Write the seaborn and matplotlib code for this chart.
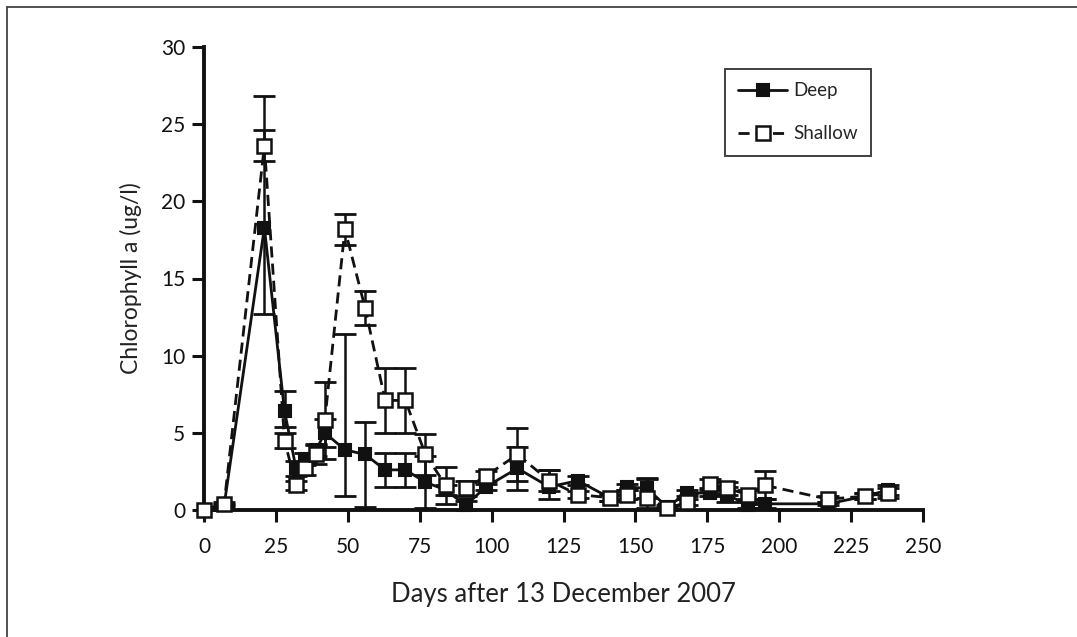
import matplotlib
matplotlib.use("Agg")
import matplotlib.pyplot as plt
from matplotlib import font_manager
from matplotlib.lines import Line2D
import seaborn as sns
import pandas as pd

# ---------------- data ----------------
days = [0, 7, 21, 28, 32, 35, 39, 42, 49, 56, 63, 70, 77, 84, 91, 98, 109,
        120, 130, 141, 147, 154, 161, 168, 176, 182, 189, 195, 217, 230, 238]

deep = [0.0, 0.3, 18.3, 6.4, 2.7, 3.3, 3.9, 5.0, 3.9, 3.6, 2.6, 2.6, 1.8, 1.3, 0.3, 1.5, 2.7,
        1.5, 1.9, 0.8, 1.5, 1.4, 0.2, 1.1, 1.1, 1.0, 0.3, 0.4, 0.4, 0.9, 1.3]
deep_err_lo = [0.0, 0.1, 5.6, 1.0, 0.5, 0.4, 0.4, 0.9, 3.0, 3.4, 1.1, 1.1, 1.7, 0.3, 0.3, 0.2, 1.4,
               0.8, 0.3, 0.2, 0.2, 0.6, 0.1, 0.2, 0.2, 0.5, 0.2, 0.3, 0.1, 0.2, 0.3]
deep_err_hi = [0.0, 0.1, 6.3, 1.3, 0.5, 0.4, 0.4, 0.9, 7.5, 2.1, 1.1, 1.1, 1.7, 0.3, 0.3, 0.2, 1.4,
               1.1, 0.3, 0.2, 0.2, 0.6, 0.1, 0.2, 0.2, 0.5, 0.2, 0.3, 0.1, 0.2, 0.3]

shallow = [0.0, 0.4, 23.6, 4.5, 1.6, 2.7, 3.6, 5.8, 18.2, 13.1, 7.1, 7.1, 3.6, 1.6, 1.4, 2.2, 3.6,
           1.9, 1.0, 0.8, 1.0, 0.8, 0.1, 0.5, 1.7, 1.4, 1.0, 1.6, 0.7, 0.9, 1.1]
shallow_err_lo = [0.0, 0.1, 1.0, 0.5, 0.3, 0.4, 0.6, 2.5, 1.0, 1.1, 2.1, 2.1, 1.3, 1.2, 0.5, 0.3, 1.7,
                  0.7, 0.2, 0.2, 0.3, 0.7, 0.1, 0.2, 0.3, 0.4, 0.3, 0.9, 0.2, 0.2, 0.3]
shallow_err_hi = [0.0, 0.1, 3.2, 0.5, 0.3, 0.4, 0.6, 2.5, 1.0, 1.1, 2.1, 2.1, 1.3, 1.2, 0.5, 0.3, 1.7,
                  0.7, 0.2, 0.2, 0.3, 1.3, 0.1, 0.2, 0.3, 0.4, 0.3, 0.9, 0.2, 0.2, 0.3]

x_ticks = [0, 25, 50, 75, 100, 125, 150, 175, 200, 225, 250]
y_ticks = [0, 5, 10, 15, 20, 25, 30]
x_label = "Days after 13 December 2007"
y_label = "Chlorophyll a (ug/l)"
series_names = ["Deep", "Shallow"]

# ---------------- fonts ----------------
def pick(families, default="DejaVu Sans"):
    for f in families:
        try:
            font_manager.findfont(font_manager.FontProperties(family=f), fallback_to_default=False)
            return f
        except Exception:
            pass
    return default

narrow = pick(["Liberation Sans Narrow", "DejaVu Sans Condensed", "Lato"])
label_font = pick(["Lato", "Open Sans", "DejaVu Sans"])

sns.set_style("ticks")
plt.rcParams["font.family"] = [label_font, "DejaVu Sans"]

df = pd.DataFrame({
    "day": days * 2,
    "value": deep + shallow,
    "site": [series_names[0]] * len(days) + [series_names[1]] * len(days),
})

W, H = 1077, 637
fig = plt.figure(figsize=(W / 100, H / 100), dpi=100)
ax = fig.add_axes([204 / W, 1 - 510 / H, (923 - 204) / W, (510 - 47) / H])

black = "#111111"

# error bars
ax.errorbar(days, deep, yerr=[deep_err_lo, deep_err_hi], fmt="none", ecolor=black,
            elinewidth=1.8, capsize=8, capthick=2.0, zorder=3, clip_on=False)
ax.errorbar(days, shallow, yerr=[shallow_err_lo, shallow_err_hi], fmt="none", ecolor=black,
            elinewidth=1.8, capsize=8, capthick=2.0, zorder=3, clip_on=False)

# lines + markers via seaborn
sns.lineplot(data=df[df.site == "Deep"], x="day", y="value", ax=ax, color=black,
             lw=2.0, marker="s", markersize=9, markerfacecolor=black, markeredgecolor=black,
             markeredgewidth=1.5, zorder=4, clip_on=False, label="Deep")
sns.lineplot(data=df[df.site == "Shallow"], x="day", y="value", ax=ax, color=black,
             lw=2.0, linestyle=(0, (4.0, 2.2)), marker="s", markersize=10,
             markerfacecolor="white", markeredgecolor=black, markeredgewidth=1.8,
             zorder=5, clip_on=False, label="Shallow")

ax.set_xlim(0, 250)
ax.set_ylim(0, 30)
ax.set_xticks(x_ticks)
ax.set_yticks(y_ticks)
ax.set_xticklabels([str(t) for t in x_ticks], fontfamily=narrow, fontsize=15, color=black)
ax.set_yticklabels([str(t) for t in y_ticks], fontfamily=narrow, fontsize=15, color=black)
ax.tick_params(axis="both", length=8.5, width=2.2, color=black, direction="out", pad=5)
ax.tick_params(axis="x", pad=11)

sns.despine(ax=ax)
for s in ["left", "bottom"]:
    ax.spines[s].set_linewidth(2.8)
    ax.spines[s].set_color(black)

ax.set_xlabel(x_label, fontsize=18.5, color="#222222", labelpad=18)
ax.set_ylabel(y_label, fontsize=16.5, color="#222222", labelpad=14)

leg = ax.legend(loc="upper left", bbox_to_anchor=(725 / W, 1 - 69 / H),
                bbox_transform=fig.transFigure, frameon=True, fancybox=False,
                borderaxespad=0, prop={"family": narrow, "size": 13.5}, handlelength=2.6,
                labelspacing=1.4, borderpad=0.7, handletextpad=0.35)
leg.get_frame().set_edgecolor(black)
leg.get_frame().set_linewidth(1.4)

# outer frame (top and left edges)
fig.add_artist(Line2D([7 / W, 7 / W], [0, 1 - 7 / H], transform=fig.transFigure,
                      color="#444444", lw=1.3))
fig.add_artist(Line2D([7 / W, 1], [1 - 7 / H, 1 - 7 / H], transform=fig.transFigure,
                      color="#444444", lw=1.3))

fig.savefig("out.png", dpi=100)
